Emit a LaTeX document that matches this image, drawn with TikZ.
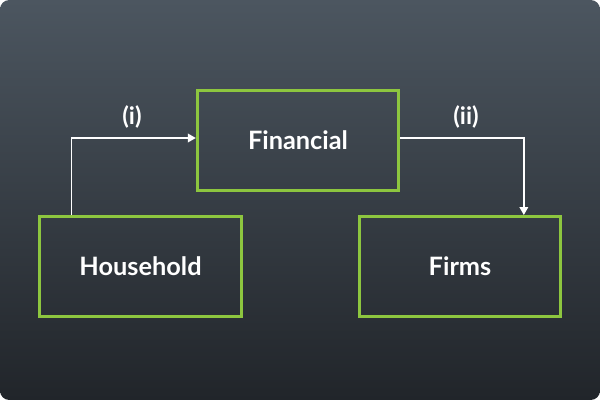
\documentclass[tikz,border=0pt]{standalone}
\usepackage{fontspec}
\setmainfont{Lato}
\usetikzlibrary{arrows.meta,calc}
\definecolor{bgtop}{RGB}{76,86,96}
\definecolor{bgbot}{RGB}{33,37,42}
\definecolor{boxgreen}{RGB}{141,198,63}
\begin{document}
\begin{tikzpicture}[x=0.75pt, y=-0.75pt,
  sector/.style={draw=boxgreen, line width=2.25pt, minimum width=151pt,
    minimum height=75pt, text=white, font=\fontsize{19}{22}\selectfont\bfseries},
  flow/.style={draw=white, line width=1.1pt, -{Triangle[length=6pt,width=6.5pt]}},
  tag/.style={text=white, font=\fontsize{18}{21}\selectfont\bfseries}]
  % background panel
  \fill[white] (0,0) rectangle (600,400);
  \useasboundingbox (0,0) rectangle (600,400);
  \shade[top color=bgtop, bottom color=bgbot, rounded corners=7pt] (0,0) rectangle (600,400);

  % sectors
  \node[sector] (fin) at (298,140) {Financial};
  \node[sector] (hh) at (140.5,266.5) {Household};
  \node[sector] (firms) at (460,266.5) {Firms};

  % flows
  \draw[flow] ($(hh.north west)+(33,0)$) |- ($(fin.west)+(0,-2)$);
  \draw[flow] ($(fin.east)+(0,-2)$) -| ($(firms.north west)+(166,0)$);
  \node[tag] (lblI) at (132,117) {(i)};
  \node[tag] (lblII) at (466,117) {(ii)};
\end{tikzpicture}
\end{document}
